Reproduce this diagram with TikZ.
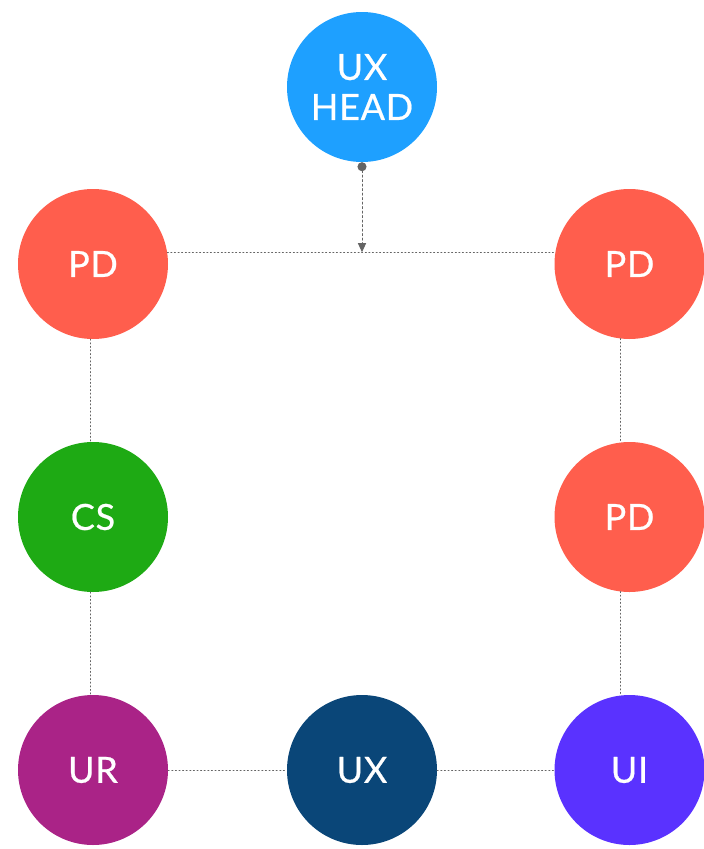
\documentclass[tikz,border=0pt]{standalone}
\usepackage{fontspec}
\setmainfont{Lato}
\newfontfamily\rolefont{Lato}[FakeBold=0.6,LetterSpace=2]
\usetikzlibrary{arrows.meta}
\definecolor{pdred}{RGB}{255,94,77}
\definecolor{headblue}{RGB}{30,160,255}
\definecolor{csgreen}{RGB}{30,170,20}
\definecolor{urpurple}{RGB}{170,35,135}
\definecolor{uxnavy}{RGB}{10,70,120}
\definecolor{uiviolet}{RGB}{90,50,255}
\definecolor{linkgray}{RGB}{100,100,100}
\begin{document}
\begin{tikzpicture}[x=1pt,y=-1pt,line cap=round,
	role/.style={circle,minimum size=150pt,inner sep=0pt,text=white,align=center,
		font=\rolefont\fontsize{36}{40}\selectfont},
	link/.style={linkgray,line width=1pt,dash pattern=on 1pt off 2.6pt}]
	\useasboundingbox (0,0) rectangle (704,849);
	\def\l{93}
	\def\r{629.5}
	% roles
	\foreach \n/\x/\y/\c/\t in {head/362/87/headblue/{UX\\HEAD},pdl/\l/264/pdred/PD,pdr/\r/264/pdred/PD,
		cs/\l/517/csgreen/CS,pdrr/\r/517/pdred/PD,ur/\l/770/urpurple/UR,ux/362/770/uxnavy/UX,ui/\r/770/uiviolet/UI}
	\node[role,fill=\c] (\n) at (\x,\y) {\t};
	% links
	\draw[link] (pdl.9)--(pdr.171);
	\foreach \a/\b in {pdl.-92/cs.92,cs.-92/ur.92,pdr.-97/pdrr.97,pdrr.-97/ui.97,ur/ux,ux/ui}
	\draw[link] (\a)--(\b);
	\coordinate (join) at (head.south |- pdl.9);
	\draw[linkgray,line width=1pt,dash pattern=on 2pt off 2.5pt,
		{Circle[length=9pt]}-{Triangle[length=9pt,width=8pt]}] (head.south)--(join);
\end{tikzpicture}
\end{document}
